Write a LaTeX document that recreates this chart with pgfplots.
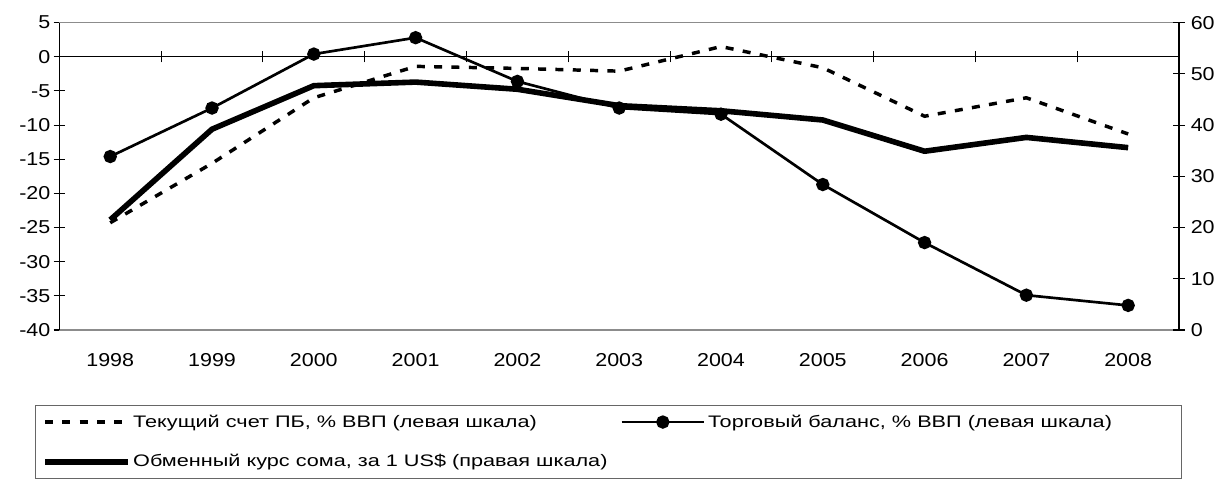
\documentclass[border=0pt]{standalone}
\usepackage{fontspec}
\setmainfont{Liberation Sans}
\newfontfamily\tickfont[FakeStretch=1.15]{Liberation Sans}
\newfontfamily\legfont[FakeStretch=1.3]{Liberation Sans}
\usepackage{pgfplots}
\usepackage{pgfplotstable}
\pgfplotsset{compat=1.18}

\pgfplotstableread{
x ca tb er
0 -24.3 -14.6 21.5
1 -15.6 -7.5 39.2
2 -6.0 0.4 47.7
3 -1.4 2.8 48.4
4 -1.7 -3.6 47.0
5 -2.1 -7.5 43.8
6 1.5 -8.4 42.8
7 -1.6 -18.7 41.0
8 -8.7 -27.2 34.9
9 -6.0 -34.9 37.6
10 -11.3 -36.4 35.6
}\datatab

\begin{document}
\begin{tikzpicture}
\path[use as bounding box] (0,0) rectangle (915.75pt,361.5pt);
\begin{axis}[
  at={(44.5pt,114pt)}, anchor=south west,
  scale only axis, width=839.8pt, height=230.5pt,
  xmin=-0.5, xmax=10.5, ymin=-40, ymax=5,
  ytick={-40,-35,...,5},
  xtick={0,...,10},
  xticklabels={1998,1999,2000,2001,2002,2003,2004,2005,2006,2007,2008},
  separate axis lines,
  x axis line style={draw=black!45, line width=1pt},
  y axis line style={draw=black, line width=0.9pt},
  ytick pos=left,
  xtick pos=bottom,
  major x tick style={draw=none},
  tick align=center,
  major tick length=8.5pt,
  every tick/.style={black, line width=0.8pt},
  /pgf/number format/assume math mode=true,
  tick label style={font=\tickfont\fontsize{14}{16}\selectfont},
  xticklabel style={yshift=-10pt},
  yticklabel style={xshift=1pt},
  legend columns=2,
  legend cell align=left,
  legend style={at={(-0.0217,-0.244)}, anchor=north west,
    draw=black!60, line width=0.8pt,
    inner xsep=5pt, inner ysep=5pt,
    row sep=15pt,
    font=\legfont\fontsize{12.5}{14}\selectfont,
    /tikz/every even column/.append style={column sep=7.5pt}},
  legend image code/.code={\draw[mark repeat=2,mark phase=2,#1] plot coordinates {(0pt,0pt) (31pt,0pt) (62pt,0pt)};},
]
\draw[black, line width=0.8pt] (axis cs:-0.5,0) -- (axis cs:10.5,0);
\pgfplotsinvokeforeach{0.5,1.5,2.5,3.5,4.5,5.5,6.5,7.5,8.5,9.5}{
  \draw[black, line width=0.8pt] ([yshift=-4.25pt]axis cs:#1,0) -- ([yshift=4.25pt]axis cs:#1,0);
}
\addplot[black, line width=2.6pt, dash pattern=on 6pt off 7pt, no marks] table[x=x,y=ca] {\datatab};
\addlegendentry{\makebox[352pt][l]{Текущий счет ПБ, \% ВВП (левая шкала)}}
\addplot[black, line width=2pt, mark=*, mark size=4pt, mark options={solid}] table[x=x,y=tb] {\datatab};
\addlegendentry{\makebox[348pt][l]{Торговый баланс, \% ВВП (левая шкала)}}
\addlegendimage{black, line width=4.2pt, no marks}
\addlegendentry{Обменный курс сома, за 1 US\$ (правая шкала)}
\end{axis}
\begin{axis}[
  at={(44.5pt,114pt)}, anchor=south west,
  scale only axis, width=839.8pt, height=230.5pt,
  xmin=-0.5, xmax=10.5, ymin=0, ymax=60,
  ytick={0,10,...,60},
  axis y line*=right, axis x line=none,
  y axis line style={draw=black, line width=0.9pt},
  tick align=center,
  major tick length=8.5pt,
  every tick/.style={black, line width=0.8pt},
  /pgf/number format/assume math mode=true,
  tick label style={font=\tickfont\fontsize{14}{16}\selectfont},
  yticklabel style={xshift=1pt},
]
\addplot[black, line width=4.2pt, no marks, line join=round] table[x=x,y=er] {\datatab};
\end{axis}
\end{tikzpicture}
\end{document}
